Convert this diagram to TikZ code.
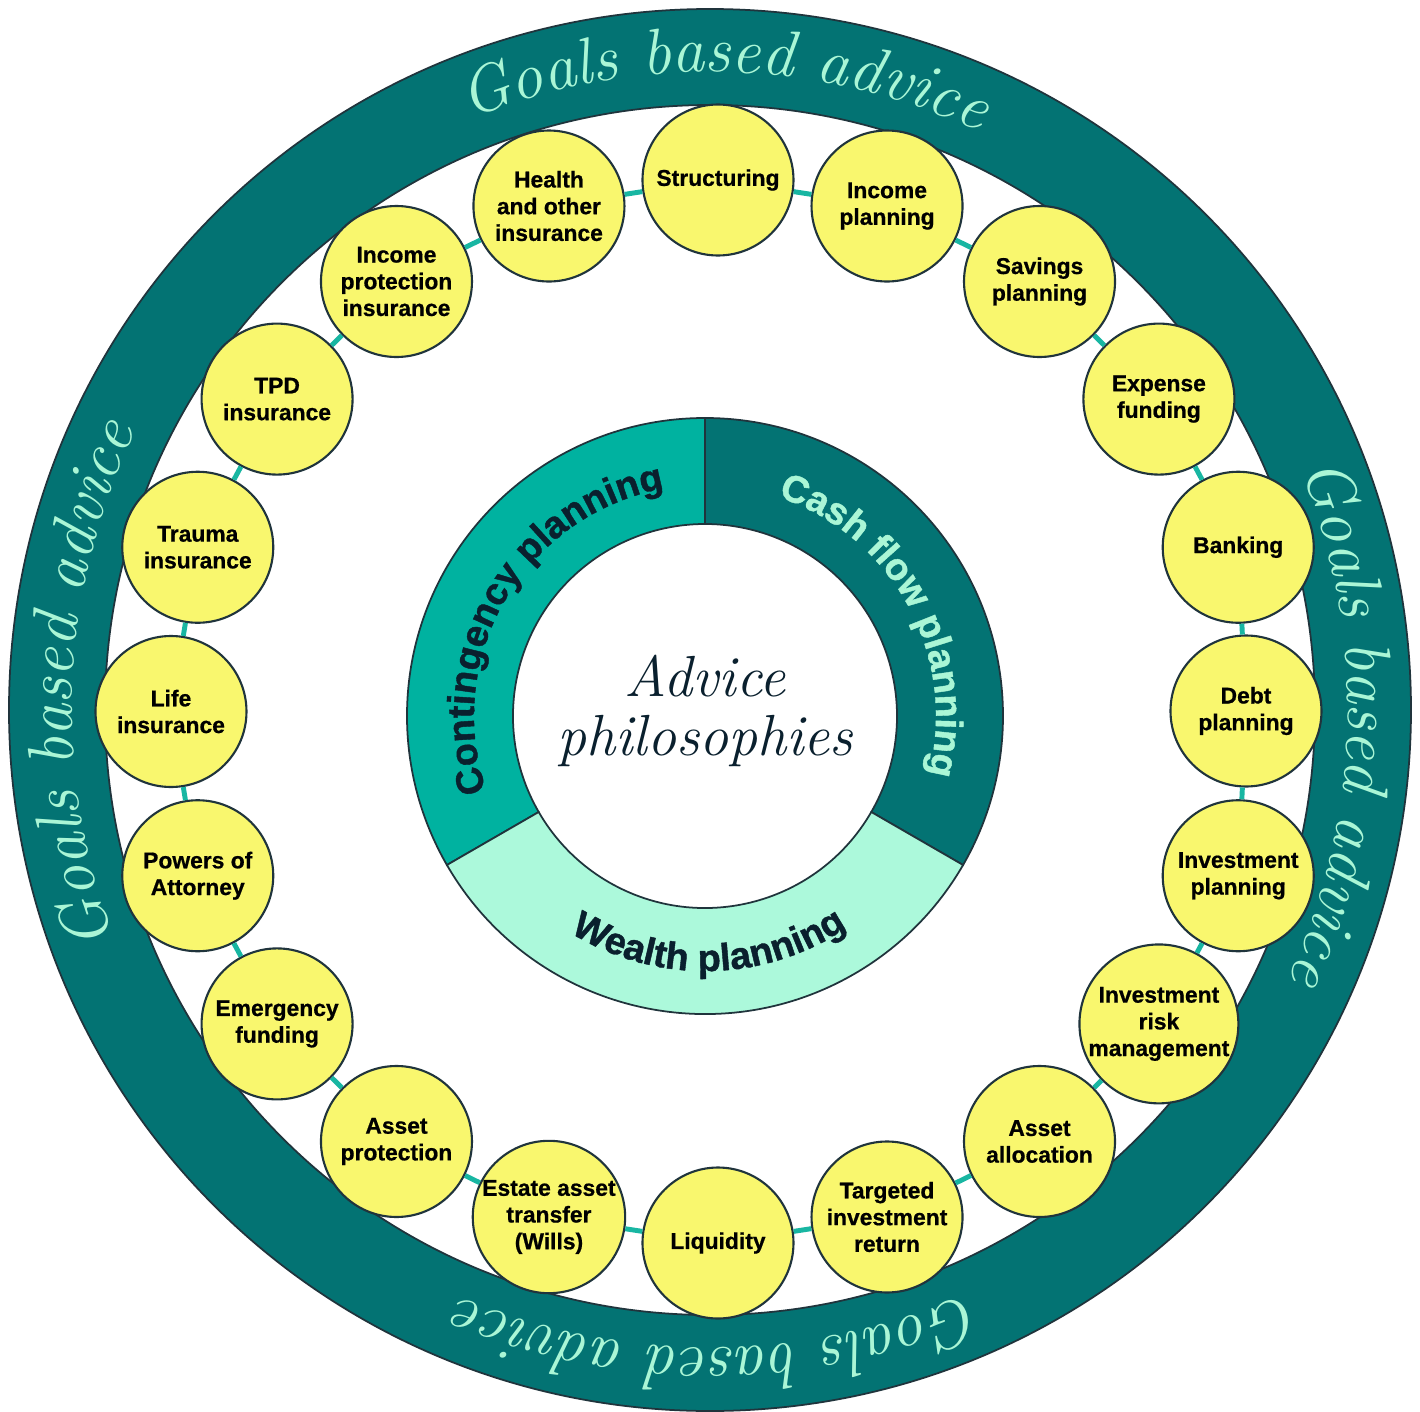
\documentclass[tikz,border=0pt]{standalone}
\usepackage{fontspec}
\setsansfont{Liberation Sans}
\newfontfamily\heavysans{Liberation Sans}[BoldFeatures={FakeBold=1.1}]
\newfontfamily\topicsans{Liberation Sans}[BoldFeatures={FakeBold=0.7}]
\usetikzlibrary{decorations.text}

\definecolor{ringteal}{RGB}{3,115,115}
\definecolor{contteal}{RGB}{0,178,160}
\definecolor{wealthmint}{RGB}{172,249,219}
\definecolor{ringmint}{RGB}{170,246,214}
\definecolor{topicyellow}{RGB}{249,247,110}
\definecolor{linkteal}{RGB}{24,182,162}
\definecolor{inkblue}{RGB}{10,32,46}
\definecolor{edgegrey}{RGB}{32,52,60}

\newcommand{\ringfont}{\rmfamily\itshape\fontsize{18.5}{20}\selectfont}
\newcommand{\bandfont}{\heavysans\bfseries\fontsize{10.8}{12}\selectfont}

\begin{document}
\begin{tikzpicture}[
    topic/.style={circle, draw=edgegrey, line width=0.6pt, fill=topicyellow, minimum size=1.51cm, inner sep=0pt, align=center, text=black, font=\topicsans\bfseries\fontsize{6.5}{7.6}\selectfont},
    link/.style={draw=linkteal, line width=1.4pt},
    seg/.style={draw=edgegrey, line width=0.5pt},
    ringtext/.style={decorate, decoration={text along path, text align=center, text color=ringmint, text={|\ringfont|Goals based advice}}}
]
\fill[white] (-7.10,-7.01) rectangle (7.10,7.10);
\useasboundingbox (-7.10,-7.01) rectangle (7.10,7.10);

% outer ring
\draw[seg, fill=ringteal, even odd rule] (0,0) circle (7.01) (0,0) circle (6.05);
\path[ringtext] (123.6:6.38) arc[start angle=123.6, end angle=53.6, radius=6.38];
\path[ringtext] (33.7:6.38) arc[start angle=33.7, end angle=-36.3, radius=6.38];
\path[ringtext] (-54.5:6.38) arc[start angle=-54.5, end angle=-124.5, radius=6.38];
\path[ringtext] (212.6:6.38) arc[start angle=212.6, end angle=142.6, radius=6.38];

% centre donut
\begin{scope}[shift={(-0.05,-0.06)}]
\draw[seg, fill=contteal] (90:2.98) arc[start angle=90, end angle=210, radius=2.98] -- (210:1.92) arc[start angle=210, end angle=90, radius=1.92] -- cycle;
\draw[seg, fill=ringteal] (90:2.98) arc[start angle=90, end angle=-30, radius=2.98] -- (-30:1.92) arc[start angle=-30, end angle=90, radius=1.92] -- cycle;
\draw[seg, fill=wealthmint] (210:2.98) arc[start angle=210, end angle=330, radius=2.98] -- (330:1.92) arc[start angle=330, end angle=210, radius=1.92] -- cycle;

\path[decorate, decoration={text along path, text align=center, text color=inkblue, text={|\bandfont|Contingency planning}}] (219.5:2.31) arc[start angle=219.5, end angle=79.5, radius=2.31];
\path[decorate, decoration={text along path, text align=center, text color=ringmint, text={|\bandfont|Cash flow planning}}] (98.5:2.31) arc[start angle=98.5, end angle=-41.5, radius=2.31];
\path[decorate, decoration={text along path, text align=center, text color=inkblue, text={|\bandfont|Wealth planning}}] (201:2.55) arc[start angle=201, end angle=341, radius=2.55];

\node[font=\rmfamily\itshape\fontsize{16.5}{17}\selectfont, text=inkblue, align=center] (title) at (0,0.05) {Advice\\philosophies};
\end{scope}

% planning topics
\begin{scope}[shift={(0.08,-0.015)}]
\node[topic] (struct) at (90:5.47cm and 5.315cm) {Structuring};
\node[topic] (incplan) at (72:5.47cm and 5.315cm) {Income\\planning};
\node[topic] (savings) at (54:5.47cm and 5.315cm) {Savings\\planning};
\node[topic] (expense) at (36:5.45cm and 5.315cm) {Expense\\funding};
\node[topic] (banking) at (18:5.47cm and 5.315cm) {Banking};
\node[topic] (invplan) at (-18:5.47cm and 5.315cm) {Investment\\planning};
\node[topic] (invrisk) at (-36:5.45cm and 5.315cm) {Investment\\risk\\management};
\node[topic] (alloc) at (-54:5.47cm and 5.315cm) {Asset\\allocation};
\node[topic] (target) at (-72:5.47cm and 5.315cm) {Targeted\\investment\\return};
\node[topic] (liquid) at (-90:5.47cm and 5.315cm) {Liquidity};
\node[topic] (estate) at (-108:5.47cm and 5.315cm) {Estate asset\\transfer\\(Wills)};
\node[topic] (protect) at (-126:5.47cm and 5.315cm) {Asset\\protection};
\node[topic] (emerg) at (-144:5.45cm and 5.315cm) {Emergency\\funding};
\node[topic] (powers) at (-162:5.47cm and 5.315cm) {Powers of\\Attorney};
\node[topic] (life) at (180:5.47cm and 5.315cm) {Life\\insurance};
\node[topic] (trauma) at (162:5.47cm and 5.315cm) {Trauma\\insurance};
\node[topic] (tpd) at (144:5.45cm and 5.315cm) {TPD\\insurance};
\node[topic] (incprot) at (126:5.47cm and 5.315cm) {Income\\protection\\insurance};
\node[topic] (health) at (108:5.47cm and 5.315cm) {Health\\and other\\insurance};
\end{scope}
\node[topic] (debt) at (5.36,-0.01) {Debt\\planning};

% links between neighbours
\draw[link] (struct) -- (incplan);
\draw[link] (incplan) -- (savings);
\draw[link] (savings) -- (expense);
\draw[link] (expense) -- (banking);
\draw[link] (banking) -- (debt);
\draw[link] (debt) -- (invplan);
\draw[link] (invplan) -- (invrisk);
\draw[link] (invrisk) -- (alloc);
\draw[link] (alloc) -- (target);
\draw[link] (target) -- (liquid);
\draw[link] (liquid) -- (estate);
\draw[link] (estate) -- (protect);
\draw[link] (protect) -- (emerg);
\draw[link] (emerg) -- (powers);
\draw[link] (powers) -- (life);
\draw[link] (life) -- (trauma);
\draw[link] (trauma) -- (tpd);
\draw[link] (tpd) -- (incprot);
\draw[link] (incprot) -- (health);
\draw[link] (health) -- (struct);
\end{tikzpicture}
\end{document}
